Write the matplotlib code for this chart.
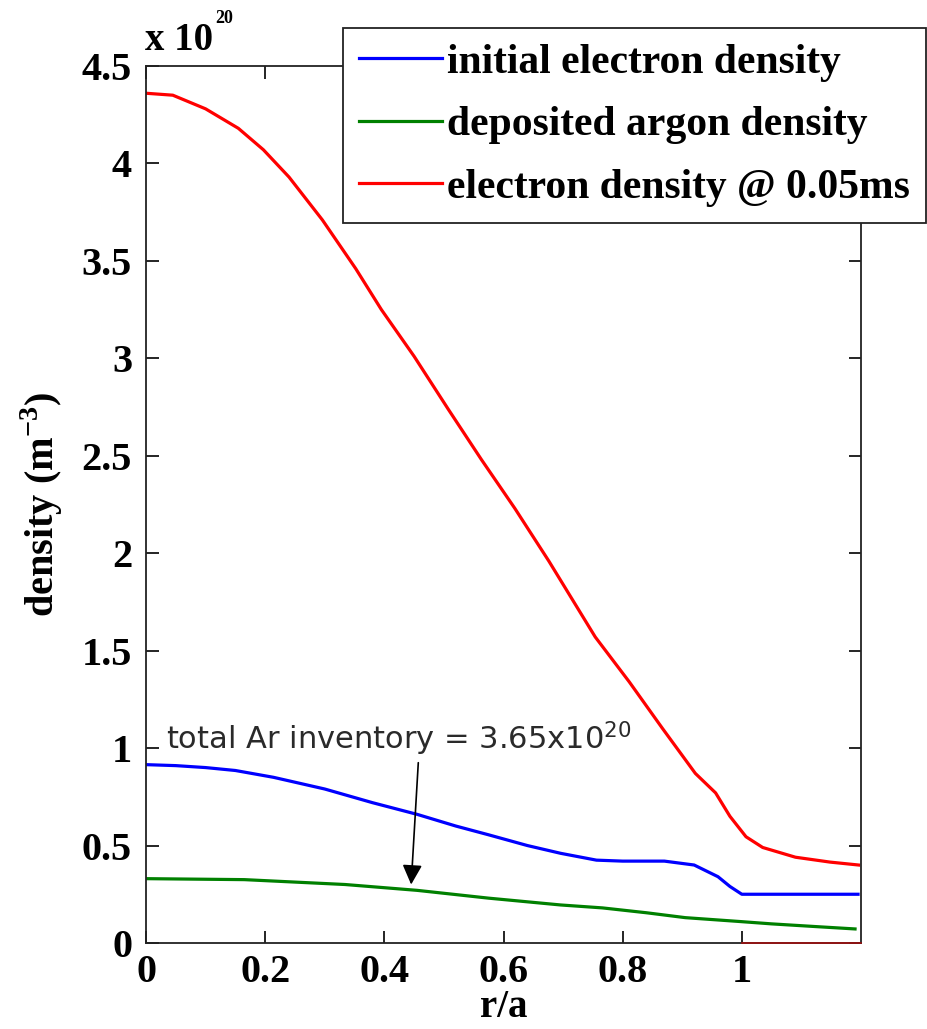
import matplotlib
matplotlib.use("Agg")
import matplotlib.pyplot as plt

plt.rcParams['mathtext.fontset'] = 'custom'
plt.rcParams['mathtext.rm'] = 'DejaVu Sans'
plt.rcParams['mathtext.bf'] = 'Liberation Serif:bold'

# data (density in units of 1e20 m^-3)
r_red = [0, 0.045, 0.1, 0.155, 0.197, 0.24, 0.296, 0.352, 0.395, 0.45, 0.507, 0.563,
         0.619, 0.676, 0.71, 0.754, 0.811, 0.867, 0.922, 0.956, 0.98, 1.007, 1.035,
         1.09, 1.148, 1.196]
ne_red = [4.36, 4.35, 4.28, 4.18, 4.07, 3.93, 3.71, 3.46, 3.25, 3.01, 2.74, 2.48,
          2.23, 1.96, 1.79, 1.57, 1.34, 1.10, 0.87, 0.77, 0.65, 0.545, 0.49,
          0.44, 0.415, 0.40]

r_blue = [0, 0.05, 0.1, 0.15, 0.214, 0.3, 0.38, 0.455, 0.52, 0.575, 0.64, 0.696,
          0.756, 0.8, 0.87, 0.92, 0.96, 0.98, 1.0, 1.1, 1.195]
ne_blue = [0.915, 0.91, 0.90, 0.885, 0.85, 0.79, 0.72, 0.66, 0.60, 0.555, 0.50, 0.46,
           0.425, 0.42, 0.42, 0.40, 0.34, 0.29, 0.25, 0.25, 0.25]

r_green = [0, 0.165, 0.334, 0.455, 0.575, 0.696, 0.766, 0.84, 0.905, 0.997, 1.05,
           1.13, 1.19]
nar_green = [0.33, 0.325, 0.30, 0.27, 0.23, 0.195, 0.18, 0.155, 0.13, 0.11, 0.098,
             0.083, 0.072]

r_edge = [1.0, 1.2]
n_edge = [0.0, 0.0]

labels = ["initial electron density", "deposited argon density",
          "electron density @ 0.05ms"]
xticks = [0, 0.2, 0.4, 0.6, 0.8, 1]
yticks = [0, 0.5, 1, 1.5, 2, 2.5, 3, 3.5, 4, 4.5]

serif = 'Liberation Serif'

fig = plt.figure(figsize=(9.27, 10.29), dpi=100)
ax = fig.add_axes([0.1575, 0.0836, 0.7713, 0.8523])

ax.plot(r_blue, ne_blue, color=(0, 0, 1), lw=2.3, label=labels[0])
ax.plot(r_green, nar_green, color=(0, 0.5, 0), lw=2.3, label=labels[1])
ax.plot(r_red, ne_red, color=(1, 0, 0), lw=2.3, label=labels[2])
ax.plot(r_edge, n_edge, color='#a01010', lw=1.2, clip_on=False, zorder=5)

ax.set_xlim(0, 1.2)
ax.set_ylim(0, 4.5)
ax.set_xticks(xticks)
ax.set_xticklabels(["0", "0.2", "0.4", "0.6", "0.8", "1"])
ax.set_yticks(yticks)
ax.set_yticklabels(["0", "0.5", "1", "1.5", "2", "2.5", "3", "3.5", "4", "4.5"])
ax.tick_params(direction='in', length=9, width=1.2, top=True, right=True,
               labelsize=29, pad=8, colors='black')
ax.tick_params(axis='y', pad=10)
for lab in ax.get_xticklabels() + ax.get_yticklabels():
    lab.set_fontfamily(serif)
    lab.set_fontweight('bold')
for sp in ax.spines.values():
    sp.set_linewidth(1.3)
    sp.set_color('#222222')

ax.set_xlabel("r/a", fontsize=28, fontweight='bold', family=serif)
ax.xaxis.set_label_coords(0.5, -0.052)
ax.set_ylabel(r"density (m$^{\mathbf{-3}}$)", fontsize=29, fontweight='bold',
              family=serif)
ax.yaxis.set_label_coords(-0.113, 0.5)

fig.text(0.156, 0.951, "x 10", fontsize=28, fontweight='bold', family=serif)
fig.text(0.232, 0.978, "20", fontsize=13, fontweight='bold', family=serif)

ax.annotate("", xy=(0.445, 0.3), xytext=(0.457, 0.925),
            arrowprops=dict(arrowstyle='-|>', color='black', lw=1.2,
                            mutation_scale=30, shrinkA=0, shrinkB=0))
ax.text(0.034, 0.993, r"total Ar inventory = 3.65x10$^{20}$", fontsize=22,
        family='DejaVu Sans', color='#2a2a2a')

leg = ax.legend(loc='upper right', bbox_to_anchor=(0.999, 1 - 28 / 1029),
                bbox_transform=fig.transFigure, frameon=True, fancybox=False,
                prop={'family': serif, 'weight': 'bold', 'size': 30},
                handlelength=2.0, handletextpad=0.12, labelspacing=0.58,
                borderpad=0.38, borderaxespad=0)
leg.get_frame().set_edgecolor('#222222')
leg.get_frame().set_linewidth(1.3)
leg.get_frame().set_alpha(1)

fig.savefig("out.png", dpi=100)
